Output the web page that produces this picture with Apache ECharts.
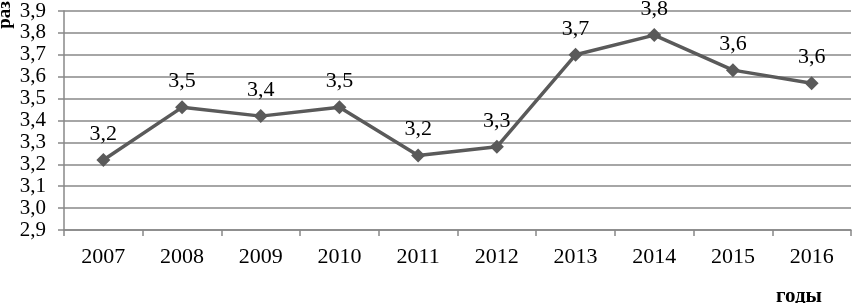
<!DOCTYPE html>
<html><head><meta charset="utf-8">
<script src="https://cdn.jsdelivr.net/npm/echarts@6/dist/echarts.min.js"></script>
<style>html,body{margin:0;padding:0;background:#fff}#c{width:853px;height:303px}</style>
</head><body><div id="c"></div>
<script>
const categories = ['2007','2008','2009','2010','2011','2012','2013','2014','2015','2016'];
const values = [3.22, 3.46, 3.42, 3.46, 3.24, 3.28, 3.70, 3.79, 3.63, 3.57];
const yTitle = 'раз';
const xTitle = 'годы';
const fmt = v => v.toFixed(1).replace('.', ',');
const font = 'Liberation Serif';
const chart = echarts.init(document.getElementById('c'));
chart.setOption({
  animation: false,
  grid: {left: 64, right: 2, top: 11, bottom: 73},
  graphic: [
    {type: 'text', left: -4, top: 1, rotation: Math.PI/2, style: {text: yTitle, font: 'bold 19px "Liberation Serif"', fill: '#000'}},
    {type: 'text', left: 776, top: 286, style: {text: xTitle, font: 'bold 21px "Liberation Serif"', fill: '#000'}}
  ],
  xAxis: {
    type: 'category', data: categories, boundaryGap: true,
    axisLine: {show: true, lineStyle: {color: '#888', width: 1.5}},
    axisTick: {show: true, length: 6, lineStyle: {color: '#888', width: 1.5}},
    axisLabel: {color: '#000', fontFamily: font, fontSize: 22, margin: 16}
  },
  yAxis: {
    type: 'value', min: 2.9, max: 3.9, interval: 0.1,
    axisLine: {show: true, lineStyle: {color: '#888', width: 1.5}},
    axisTick: {show: true, length: 6, lineStyle: {color: '#888', width: 1.5}},
    splitLine: {lineStyle: {color: '#888', width: 1.5}},
    axisLabel: {color: '#000', fontFamily: font, fontSize: 21, margin: 18, formatter: v => fmt(v)}
  },
  series: [{
    type: 'line', data: values,
    symbol: 'diamond', symbolSize: 14,
    lineStyle: {color: '#5a5a5a', width: 3.5},
    itemStyle: {color: '#5a5a5a'},
    label: {show: true, position: 'top', distance: 8, color: '#000', fontFamily: font, fontSize: 22, formatter: p => fmt(p.value)}
  }]
});
</script></body></html>
